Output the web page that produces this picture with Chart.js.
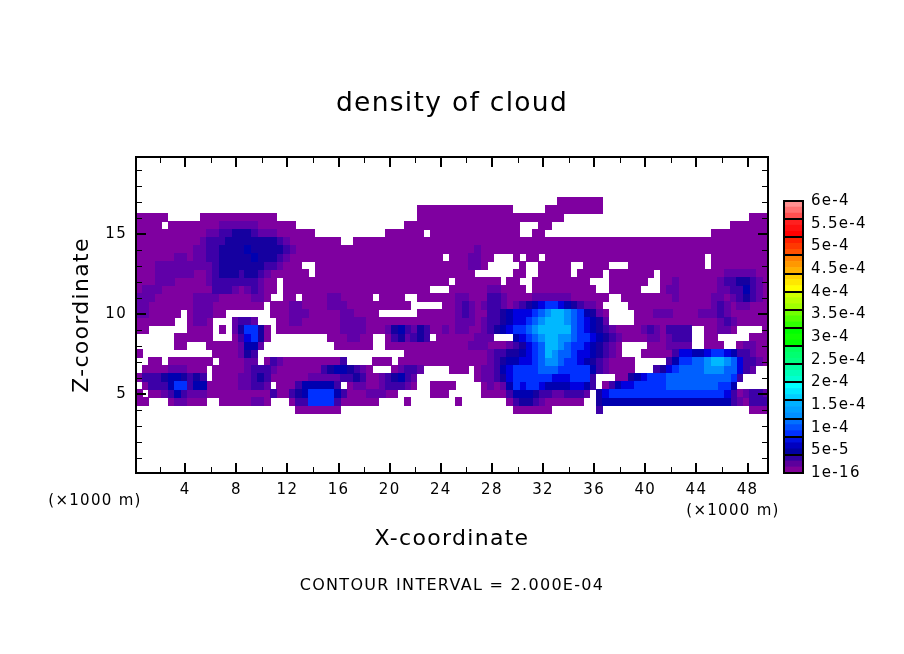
<!DOCTYPE html>
<html><head><meta charset="utf-8">
<style>html,body{margin:0;padding:0;background:#fff;width:904px;height:654px;overflow:hidden}
canvas{position:absolute;display:block}</style>
<script src="https://cdn.jsdelivr.net/npm/chart.js@4/dist/chart.umd.min.js"></script>
</head><body>
<canvas id="plot" width="904" height="654" style="left:0;top:0"></canvas>
<canvas id="bar" width="128" height="300" style="left:776px;top:190px"></canvas>
<script>
const chartTitle = 'density of cloud';
const xTitle = 'X-coordinate';
const zTitle = 'Z-coordinate';
const footer = 'CONTOUR INTERVAL = 2.000E-04';
const unit = '(×1000 m)';
const xMajor = [4,8,12,16,20,24,28,32,36,40,44,48];
const xMinor = [2,6,10,14,18,22,26,30,34,38,42,46];
const zMajor = [5,10,15];
const zMinor = [1,2,3,4,6,7,8,9,11,12,13,14,16,17,18,19];
const colorbarLabels = ['1e-16','5e-5','1e-4','1.5e-4','2e-4','2.5e-4','3e-4','3.5e-4','4e-4','4.5e-4','5e-4','5.5e-4','6e-4'];
const colorbarBands = ['#800098','#5c009c','#3000a0','#0000a0','#0000c0','#0010e0','#0030ff','#0050ff','#0070ff','#0090ff','#00a0ff','#00b0ff','#00d0ff','#00e8ff','#00ffff','#00ffd0','#00ffb8','#00ffa0','#00ff80','#00ff70','#00ff60','#00ff00','#10ff00','#00ff00','#30ff00','#50ff00','#70ff00','#a0ff00','#b8ff00','#d0ff00','#ffff00','#ffe800','#ffd000','#ffb000','#ff9800','#ff8000','#ff5000','#ff3800','#ff2000','#ff0000','#ff1010','#ff2020','#ff5050','#ff7070','#ff9090'];
const levelColors = {'1':'#7f00a0','2':'#6000a8','3':'#3d00a8','4':'#1500a0','5':'#0000b0','6':'#0000e0','7':'#0030ff','8':'#0060ff','9':'#0090ff','a':'#00b8ff'};
const colStart = 0.4, colStep = 0.5, rowStart = 17.06, rowStep = -0.5;
// contour level per 0.5 km cell; '.' = no cloud; groups of ten columns
const cloudRows = [
".......... .......... .......... .......... .......... .......... ......1111 111....... .......... .........",
".......... .......... .......... .......... ....111111 111111111. ....111111 111....... .......... .........",
"11111..... 1111111111 11........ .......... ....111111 1111111111 1111111... .......... .......... ......111",
"1111.11111 1112222221 11111..... .......... ..11111111 1111111111 ...11..... .......... .......... ...111111",
"1111111111 1223344432 22111111.. .........1 11111.1111 1111111111 ..11...... .......... .......... 111111111",
"1111111111 2333444444 4432111111 11..111111 1111111111 1111111111 1111111111 1111111111 1111111111 111111111",
"1111111112 2334444544 4443211111 1111111111 1111111111 1112111111 1111111111 1111111111 1111111111 111111111",
"1111112212 2334444454 4432111111 1111111111 11111111.1 112211...1 .11.111111 1111111111 111111111. 111111111",
"1112222222 2234444444 332111..11 1111111111 1111111111 11221..... 1..11111.. 1111...111 111111111. 111111111",
"1112222221 1234443443 2111111.11 1111111111 1111111111 111......1 1..11111.1 111.111111 1.11111111 112222211",
"1112221111 1233333332 11.1111111 1111111111 111111111. 1111111.11 ..11111111 1...111111 ..11211111 123344321",
"1222111111 1133321232 11.1111111 1111111111 111111...1 1111122111 1.11111111 11..11111. ..12211111 122335321",
"2221111112 2221111122 1..11.1111 2211111.11 11..111111 2211133211 1122222211 1111..1111 1111211111 221234321",
"2211111112 2211111111 .111221111 2221111111 111.....11 2321233212 3456776543 221....111 1111111111 232122111",
"2211111.12 2211...... .111222111 11221111.. ....111111 2321133456 66789aa987 5421....11 1222111122 232111111",
"111111..12 21...2332. ..11221111 1122221111 1111111111 2221233456 6789aaa987 6542....11 1111111111 123211111",
"11......11 11.1.24774 1.11111111 1122221112 4532431121 2211234567 789aaaaa87 6543211112 3213333..1 1221....1",
"......1111 11...13674 1......... 1112211..1 342343.111 111222...5 6789aa9987 7654321111 2212333..1 1.....111",
"......11.. .111112552 .......... .111111..1 1111111111 1122211123 4678aa9877 654321.... 1112222..1 11..12211",
"1......... ..1111243. .......... .......... ..11111111 1111123344 5678a98876 654321...1 1111366556 776533211",
"..11.11111 11.111122. 1321111111 113....111 .111111111 1111123455 6678998776 54321111.. ...3577889 aa9863321",
".111122211 1.11111233 3211111113 4554321... 12332....1 11.1223567 7778887777 75321111.. .346788889 9988632..",
"1333455434 3.11112234 3111111222 2233431123 4532...... ...1223467 7777766677 73...11456 7778888888 88873....",
".133357735 5111112233 2.11135555 53.1221123 3321..1111 ....121257 6776555566 53.1356677 7778888888 8775.....",
"1.11235322 2111111111 1311345777 7531112221 1.....111. ....111135 5543322333 2.46777777 7777777777 776312332",
"11...12211 1..1111122 1...133777 73111111.. ..1....... 1.......13 4432111111 ..45555555 5555555555 555321333",
".......... .......... .....11111 11........ .......... .........1 11111..... ..3....... .......... ......111"
];

const FONT = '"DejaVu Sans", sans-serif';
const spacing = {id:'spacing',beforeDraw(chart){chart.ctx.letterSpacing='1.3px';}};
function cellImage(color){
  const c = document.createElement('canvas'); c.width = 7; c.height = 9;
  const g = c.getContext('2d'); g.fillStyle = color; g.fillRect(0,0,7,9); return c;
}
const levelKeys = Object.keys(levelColors);
const datasets = levelKeys.map((k,i)=>{
  const pts = [];
  cloudRows.forEach((row,r)=>row.split(' ').forEach((grp,g)=>[...grp].forEach((ch,j)=>{
    if (ch===k) pts.push({x: colStart+colStep*(g*10+j), y: rowStart+rowStep*r});
  })));
  return {label:'level '+k, data:pts, order:levelKeys.length-i, pointStyle:cellImage(levelColors[k]), pointRadius:4, pointHoverRadius:4, showLine:false, clip:true};
});

const framePlugin = {
  id:'frame',
  afterDatasetsDraw(chart){
    const {ctx,chartArea:a,scales:{x,y}} = chart;
    ctx.save(); ctx.strokeStyle='#000'; ctx.fillStyle='#000';
    ctx.lineWidth=1;
    const tick=(px,py,dx,dy,w)=>{ctx.lineWidth=w;ctx.beginPath();ctx.moveTo(px,py);ctx.lineTo(px+dx,py+dy);ctx.stroke();};
    xMinor.forEach(v=>{const p=Math.round(x.getPixelForValue(v))+.5;tick(p,a.bottom,0,-6,1);tick(p,a.top,0,6,1);});
    zMinor.forEach(v=>{const p=Math.round(y.getPixelForValue(v))+.5;tick(a.left,p,6,0,1);tick(a.right,p,-6,0,1);});
    xMajor.forEach(v=>{const p=Math.round(x.getPixelForValue(v));tick(p,a.bottom,0,-10,2);tick(p,a.top,0,10,2);});
    zMajor.forEach(v=>{const p=Math.round(y.getPixelForValue(v));tick(a.left,p,10,0,2);tick(a.right,p,-10,0,2);});
    ctx.lineWidth=2; ctx.strokeRect(a.left,a.top,a.right-a.left,a.bottom-a.top);
    ctx.textBaseline='middle'; ctx.textAlign='center';
    ctx.font='15px '+FONT;
    ctx.fillText(unit,95,501); ctx.fillText(unit,733,511);
    ctx.font='16px '+FONT;
    ctx.fillText(footer,452,586);
    ctx.restore();
  }
};

new Chart(document.getElementById('plot'),{
  type:'scatter',
  data:{datasets},
  plugins:[spacing,framePlugin],
  options:{
    responsive:false, animation:false, devicePixelRatio:1,
    layout:{padding:0},
    plugins:{legend:{display:false},tooltip:{enabled:false},
      title:{display:true,text:chartTitle,color:'#000',font:{family:FONT,size:26.5,weight:'normal',lineHeight:1},padding:{top:91,bottom:39.5}}},
    scales:{
      x:{type:'linear',min:0.15,max:49.6,grid:{display:false},border:{display:false},
        afterBuildTicks:s=>{s.ticks=xMajor.map(v=>({value:v}));},
        afterFit:s=>{s.height=181;},
        ticks:{color:'#000',font:{family:FONT,size:15},padding:0,maxRotation:0,autoSkip:false},
        title:{display:true,text:xTitle,color:'#000',font:{family:FONT,size:22,lineHeight:1},padding:{top:0,bottom:104}}},
      y:{type:'linear',min:0.06,max:19.81,grid:{display:false},border:{display:false},
        afterBuildTicks:s=>{s.ticks=zMajor.map(v=>({value:v}));},
        afterFit:s=>{s.width=136;},
        ticks:{color:'#000',font:{family:FONT,size:15},padding:1,autoSkip:false},
        title:{display:true,text:zTitle,color:'#000',font:{family:FONT,size:22,lineHeight:1},padding:{top:71,bottom:0}}},
      rightMargin:{type:'linear',position:'right',min:0,max:1,grid:{display:false},border:{display:false},
        ticks:{display:false},afterFit:s=>{s.width=136;}}
    }
  }
});

const barPlugin = {
  id:'barframe',
  afterDatasetsDraw(chart){
    const {ctx,chartArea:a,scales:{y}} = chart;
    ctx.save(); ctx.strokeStyle='#000'; ctx.lineWidth=2;
    for(let i=1;i<15;i++){const p=Math.round(y.getPixelForValue(i));ctx.beginPath();ctx.moveTo(a.left,p);ctx.lineTo(a.right,p);ctx.stroke();}
    ctx.strokeRect(a.left,a.top,a.right-a.left,a.bottom-a.top);
    ctx.restore();
  }
};
new Chart(document.getElementById('bar'),{
  type:'bar',
  data:{labels:[''],datasets:colorbarBands.map(c=>({data:[1/3],backgroundColor:c,borderWidth:0,stack:'s',yAxisID:'y',barPercentage:1,categoryPercentage:1}))},
  plugins:[spacing,barPlugin],
  options:{
    responsive:false, animation:false, devicePixelRatio:1,
    layout:{padding:{left:8,right:0,top:11,bottom:17}},
    plugins:{legend:{display:false},tooltip:{enabled:false}},
    scales:{
      x:{display:false,stacked:true},
      y:{display:false,stacked:true,min:0,max:15},
      y2:{position:'right',min:0,max:12,grid:{display:false},border:{display:false},
        afterBuildTicks:s=>{s.ticks=colorbarLabels.map((l,i)=>({value:i}));},
        afterFit:s=>{s.width=101;s.paddingTop=0;s.paddingBottom=0;},
        ticks:{color:'#000',font:{family:FONT,size:15},padding:0,autoSkip:false,callback:(v)=>colorbarLabels[v]}}
    }
  }
});
</script>
</body></html>
